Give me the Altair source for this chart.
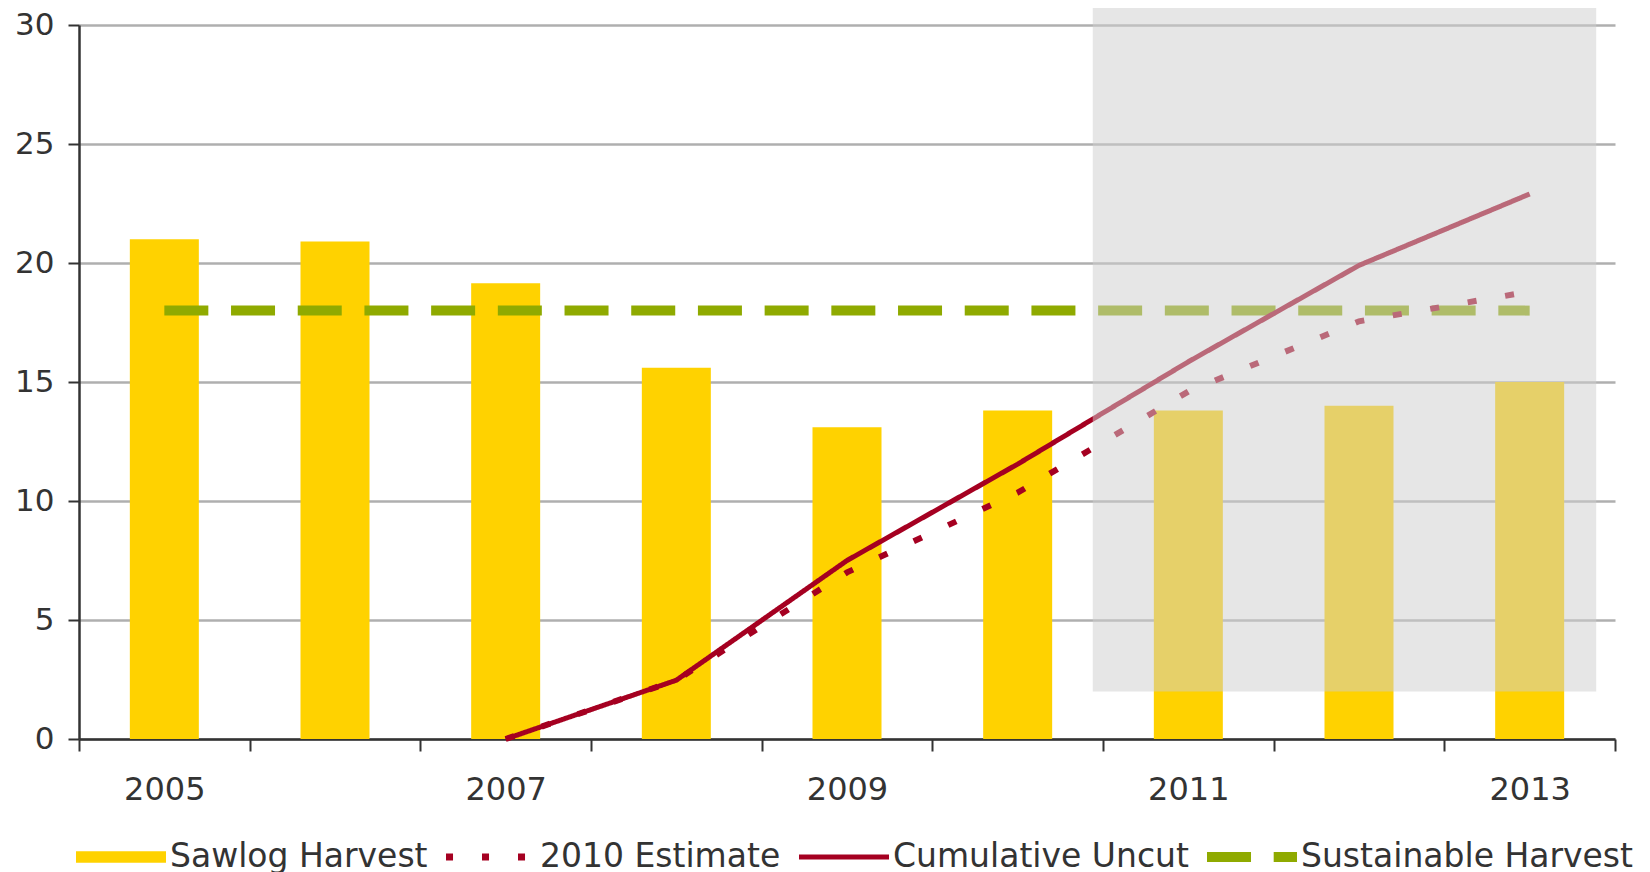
import altair as alt
import pandas as pd

# ---------------- data ----------------
years = [2005, 2006, 2007, 2008, 2009, 2010, 2011, 2012, 2013]
sawlog_harvest = [21.0, 20.9, 19.15, 15.6, 13.1, 13.8, 13.8, 14.0, 15.0]

line_years = [2007, 2008, 2009, 2010, 2011, 2012, 2013]
cumulative_uncut = [0.0, 2.47, 7.5, 11.55, 15.85, 19.9, 22.9]
estimate_2010 = [0.0, 2.47, 7.0, 10.35, 14.6, 17.55, 18.8]

sustainable_years = [2005, 2013]
sustainable_harvest = [18.0, 18.0]

# shaded forecast region
forecast_x = [2010.44]
forecast_x2 = [2013.39]
forecast_y = [2.0]
forecast_y2 = [30.8]

series_names = ["Sawlog Harvest", "2010 Estimate", "Cumulative Uncut", "Sustainable Harvest"]
series_colors = ["#FFD200", "#A50021", "#A50021", "#8FAA00"]
# legend swatches as filled paths in the unit box (-1..1)
series_symbols = [
    "M-1,-0.128H1V0.128H-1Z",
    "M-1,-0.078H-0.844V0.078H-1Z M-0.2,-0.078H-0.044V0.078H-0.2Z M0.6,-0.078H0.756V0.078H0.6Z",
    "M-1,-0.056H1V0.056H-1Z",
    "M-1,-0.111H-0.022V0.111H-1Z M0.482,-0.111H1V0.111H0.482Z",
]

band_edges = [2004.5 + i for i in range(10)]
y_ticks = [0, 5, 10, 15, 20, 25, 30]

# ---------------- tables ----------------
bars_df = pd.DataFrame({"year": years, "value": sawlog_harvest})
lines_df = pd.concat([
    pd.DataFrame({"year": sustainable_years, "value": sustainable_harvest, "series": "Sustainable Harvest"}),
    pd.DataFrame({"year": line_years, "value": estimate_2010, "series": "2010 Estimate"}),
    pd.DataFrame({"year": line_years, "value": cumulative_uncut, "series": "Cumulative Uncut"}),
], ignore_index=True)
shade_df = pd.DataFrame({"x": forecast_x, "x2": forecast_x2, "y": forecast_y, "y2": forecast_y2})

FONT = "DejaVu Sans"
TXT = "#333333"

x_scale = alt.Scale(domain=[2004.5, 2013.5], nice=False, zero=False, padding=0)
x_axis = alt.Axis(
    values=band_edges,
    labelExpr="(datum.value + 0.5) % 2 === 1 ? format(datum.value + 0.5, 'd') : ''",
    labelOffset=85.33, labelFlush=False, labelOverlap=False,
    grid=False, title=None, tickSize=12, tickWidth=2, tickColor=TXT,
    domainColor=TXT, domainWidth=2.5, labelFontSize=32, labelFont=FONT,
    labelColor=TXT, labelPadding=23,
)
y_scale = alt.Scale(domain=[0, 30], nice=False, padding=0)
y_axis = alt.Axis(
    values=y_ticks, grid=True, gridColor="#AFAFAF", gridWidth=2.5,
    title=None, tickSize=11, tickWidth=2, tickColor=TXT,
    domainColor=TXT, domainWidth=2.5, labelFontSize=31, labelFont=FONT,
    labelColor=TXT, labelPadding=14,
)

X = alt.X("year:Q", scale=x_scale, axis=x_axis)
Y = alt.Y("value:Q", scale=y_scale, axis=y_axis)

legend = alt.Legend(
    title=None, orient="none", legendX=-3, legendY=787, direction="horizontal",
    symbolSize=8100, symbolStrokeWidth=0, labelFontSize=33, labelFont=FONT,
    labelColor=TXT, labelOffset=4, columnPadding=18, labelLimit=600,
)

bars = alt.Chart(bars_df).mark_bar(size=69, color="#FFD200").encode(x=X, y=Y)


def line_layer(name, color, dash, width):
    return alt.Chart(lines_df).transform_filter(
        alt.datum.series == name
    ).mark_line(color=color, strokeDash=dash, strokeWidth=width, strokeCap="butt").encode(x=X, y=Y)


# legend-only layer (no rows survive the filter; the legend comes from the scales)
legend_layer = alt.Chart(lines_df).transform_filter("false").mark_point(
    filled=True, opacity=1, strokeWidth=0
).encode(
    x=X, y=Y,
    color=alt.Color("series:N", scale=alt.Scale(domain=series_names, range=series_colors), legend=legend),
    shape=alt.Shape("series:N", scale=alt.Scale(domain=series_names, range=series_symbols), legend=legend),
)

shade = alt.Chart(shade_df).mark_rect(color="#CECECE", opacity=0.51).encode(
    x=alt.X("x:Q", scale=x_scale, axis=x_axis),
    x2="x2:Q",
    y=alt.Y("y:Q", scale=y_scale, axis=y_axis),
    y2="y2:Q",
)

chart = alt.layer(
    bars,
    line_layer("Sustainable Harvest", "#8FAA00", [44, 22.7], 10),
    line_layer("2010 Estimate", "#A50021", [9, 29], 6),
    line_layer("Cumulative Uncut", "#A50021", [1, 0], 5),
    shade,
    legend_layer,
).properties(
    width=1536, height=714,
    autosize=alt.AutoSizeParams(type="none"),
    padding={"left": 71, "top": 17, "right": 25, "bottom": 140},
).configure_view(stroke=None)

chart.save("out.html", embed_options={"renderer": "svg", "actions": False})
